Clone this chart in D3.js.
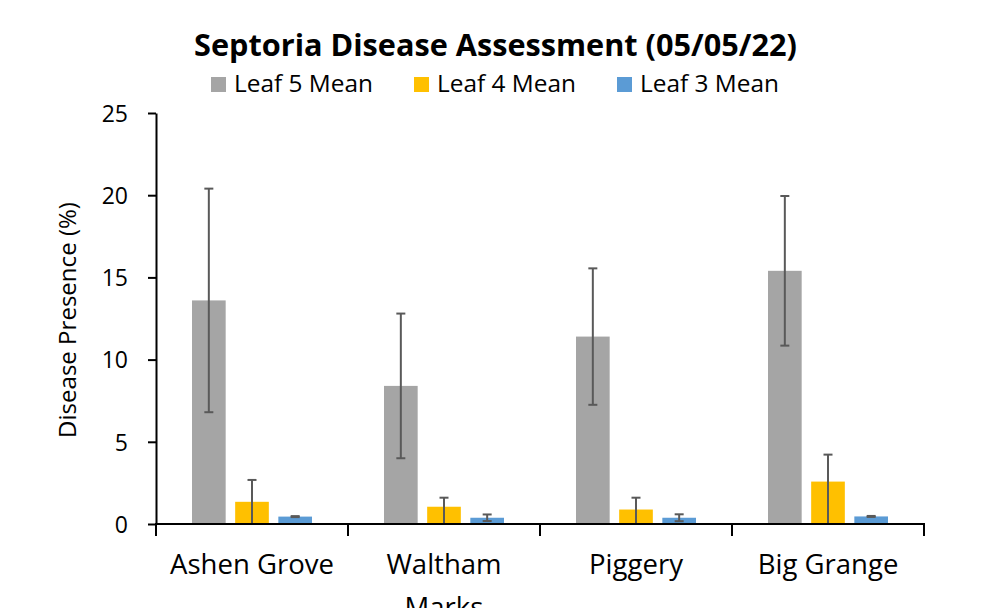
<!DOCTYPE html>
<html><head><meta charset="utf-8">
<script src="https://cdn.jsdelivr.net/npm/d3@7"></script>
<style>body{margin:0;background:#fff}svg{display:block}text{font-family:"Open Sans",Lato,sans-serif}</style>
</head><body><svg id="c" width="981" height="608"></svg>
<script>
const categories = ["Ashen Grove", "Waltham Marks", "Piggery", "Big Grange"];
const seriesNames = ["Leaf 5 Mean", "Leaf 4 Mean", "Leaf 3 Mean"];
const leaf5 = [13.6, 8.4, 11.4, 15.4];
const leaf4 = [1.35, 1.05, 0.88, 2.58];
const leaf3 = [0.45, 0.38, 0.38, 0.46];
const leaf5ErrPlus = [6.8, 4.4, 4.15, 4.55];
const leaf5ErrMinus = [6.8, 4.4, 4.15, 4.55];
const leaf4ErrPlus = [1.33, 0.55, 0.72, 1.64];
const leaf4ErrMinus = [1.35, 1.05, 0.88, 2.58];
const leaf3ErrPlus = [0.03, 0.2, 0.21, 0.03];
const leaf3ErrMinus = [0.03, 0.2, 0.21, 0.03];
const yTicks = [0, 5, 10, 15, 20, 25];
const colors = ["#A5A5A5", "#FFC000", "#5B9BD5"];

const values = [leaf5, leaf4, leaf3];
const errP = [leaf5ErrPlus, leaf4ErrPlus, leaf3ErrPlus];
const errM = [leaf5ErrMinus, leaf4ErrMinus, leaf3ErrMinus];

// scale a text's font size so that its rendered width matches a target width
function fit(sel, target) {
  const node = sel.node();
  const fs = parseFloat(sel.attr("font-size"));
  const w = node.getComputedTextLength();
  if (w > 0) sel.attr("font-size", (fs * target / w).toFixed(2));
  return sel;
}

const svg = d3.select("#c");
const x = d3.scaleBand().domain(categories).range([156, 924]).padding(0);
const xs = d3.scaleBand().domain(seriesNames).range([36, 156]).paddingInner(0.22).paddingOuter(0);
const y = d3.scaleLinear().domain([0, 25]).range([524, 113]);

const data = [];
categories.forEach((c, i) => seriesNames.forEach((s, j) => data.push({c, s, j, v: values[j][i], ep: errP[j][i], em: errM[j][i]})));

// bars
svg.append("g").selectAll("rect").data(data).join("rect")
  .attr("x", d => x(d.c) + xs(d.s))
  .attr("y", d => y(d.v))
  .attr("width", xs.bandwidth())
  .attr("height", d => y(0) - y(d.v))
  .attr("fill", d => colors[d.j]);

// error bars
const eg = svg.append("g").attr("stroke", "#595959").attr("stroke-width", 2);
data.forEach(d => {
  const cx = x(d.c) + xs(d.s) + xs.bandwidth() / 2;
  const hi = d.v + d.ep;
  let lo = d.v - d.em;
  const clipped = lo <= 0;
  if (clipped) lo = 0;
  eg.append("line").attr("x1", cx).attr("x2", cx).attr("y1", y(hi)).attr("y2", y(lo));
  eg.append("line").attr("x1", cx - 4.5).attr("x2", cx + 4.5).attr("y1", y(hi)).attr("y2", y(hi));
  if (!clipped) eg.append("line").attr("x1", cx - 4.5).attr("x2", cx + 4.5).attr("y1", y(lo)).attr("y2", y(lo));
});

// y axis
const ya = svg.append("g").attr("transform", "translate(156,0)")
  .call(d3.axisLeft(y).tickValues(yTicks).tickSize(8).tickPadding(20).tickSizeOuter(0));
ya.select(".domain").attr("stroke", "#000").attr("stroke-width", 2);
ya.selectAll(".tick line").attr("stroke", "#000").attr("stroke-width", 2);
ya.selectAll(".tick text").attr("font-size", 23).attr("fill", "#000").attr("font-family", "'Open Sans',sans-serif").attr("dy", "0.36em");

// x axis baseline + boundary ticks
const xa = svg.append("g");
xa.append("line").attr("x1", 155).attr("x2", 925).attr("y1", y(0)).attr("y2", y(0)).attr("stroke", "#000").attr("stroke-width", 2);
const bounds = categories.map(c => x(c)).concat([x.range()[1]]);
xa.selectAll("line.t").data(bounds).join("line").attr("class", "t")
  .attr("x1", d => d).attr("x2", d => d).attr("y1", y(0)).attr("y2", y(0) + 12)
  .attr("stroke", "#000").attr("stroke-width", 2);

// category labels (wrap)
const labelLines = {"Waltham Marks": ["Waltham", "Marks"]};
// size from "Ashen Grove" reference width
const probe = svg.append("text").attr("font-size", 24).text("Ashen Grove");
fit(probe, 164);
const catFs = probe.attr("font-size");
probe.remove();
categories.forEach(c => {
  const lines = labelLines[c] || [c];
  const t = svg.append("text").attr("text-anchor", "middle").attr("font-size", catFs).attr("fill", "#000");
  lines.forEach((ln, k) => t.append("tspan").attr("x", x(c) + x.bandwidth() / 2).attr("y", 574 + k * 43).text(ln));
});

// y title
fit(svg.append("text").attr("transform", "translate(76,320) rotate(-90)").attr("text-anchor", "middle")
  .attr("font-size", 22).attr("fill", "#000").text("Disease Presence (%)"), 236);

// title
fit(svg.append("text").attr("x", 495.5).attr("y", 56).attr("text-anchor", "middle")
  .attr("font-size", 28).attr("font-weight", "bold").attr("fill", "#000").text("Septoria Disease Assessment (05/05/22)"), 603);

// legend
const legX = [211, 414, 617];
const lp = svg.append("text").attr("font-size", 22).text("Leaf 5 Mean");
fit(lp, 139);
const legFs = lp.attr("font-size");
lp.remove();
seriesNames.forEach((s, j) => {
  svg.append("rect").attr("x", legX[j]).attr("y", 77).attr("width", 15).attr("height", 15).attr("fill", colors[j]);
  svg.append("text").attr("x", legX[j] + 23).attr("y", 92).attr("font-size", legFs).attr("fill", "#000").text(s);
});
</script></body></html>
